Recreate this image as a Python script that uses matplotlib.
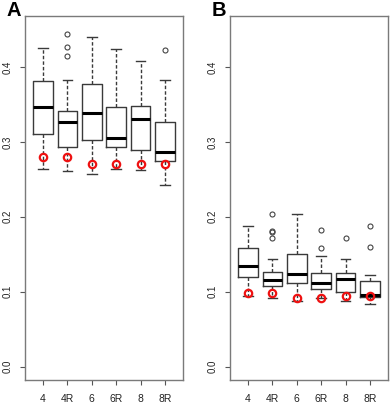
import matplotlib
matplotlib.use("Agg")
import matplotlib.pyplot as plt

plt.rcParams['font.family'] = ['Liberation Sans', 'DejaVu Sans']

categories = ["4", "4R", "6", "6R", "8", "8R"]

# Panel A
a_whislo = [0.264, 0.261, 0.257, 0.264, 0.263, 0.243]
a_q1     = [0.310, 0.293, 0.303, 0.293, 0.289, 0.275]
a_med    = [0.347, 0.326, 0.338, 0.305, 0.331, 0.287]
a_q3     = [0.381, 0.341, 0.377, 0.347, 0.348, 0.327]
a_whishi = [0.425, 0.383, 0.440, 0.424, 0.408, 0.383]
a_fliers = [[], [0.444, 0.426, 0.414], [], [], [], [0.422]]
a_red    = [0.280, 0.280, 0.270, 0.270, 0.270, 0.270]

# Panel B
b_whislo = [0.094, 0.092, 0.087, 0.092, 0.088, 0.084]
b_q1     = [0.119, 0.108, 0.112, 0.104, 0.100, 0.093]
b_med    = [0.134, 0.116, 0.124, 0.112, 0.117, 0.096]
b_q3     = [0.158, 0.126, 0.150, 0.125, 0.125, 0.114]
b_whishi = [0.187, 0.143, 0.203, 0.147, 0.143, 0.122]
b_fliers = [[], [0.203, 0.181, 0.179, 0.172], [], [0.182, 0.158], [0.171], [0.188, 0.159]]
b_red    = [0.098, 0.098, 0.092, 0.092, 0.094, 0.094]

yticks = [0.0, 0.1, 0.2, 0.3, 0.4]
ylim = (-0.018, 0.468)

fig = plt.figure(figsize=(3.92, 4.05), dpi=100)
axA = fig.add_axes([25/392, 1-380/405, 158/392, 364/405])
axB = fig.add_axes([230/392, 1-380/405, 158/392, 364/405])

boxc = "#3a3a3a"
framec = "#7a7a7a"

def draw(ax, wl, q1, med, q3, wh, fl, red, label):
    stats = []
    for i in range(len(categories)):
        stats.append(dict(label=categories[i], whislo=wl[i], q1=q1[i], med=med[i],
                          q3=q3[i], whishi=wh[i], fliers=fl[i]))
    pos = list(range(1, len(categories) + 1))
    ax.bxp(stats, positions=pos, widths=0.8, showfliers=True,
           boxprops=dict(color=boxc, linewidth=1.0),
           whiskerprops=dict(color=boxc, linewidth=1.0, linestyle=(0, (2.5, 1.5))),
           capprops=dict(color=boxc, linewidth=1.0),
           capwidths=0.4,
           medianprops=dict(color="black", linewidth=2.2),
           flierprops=dict(marker="o", markersize=3.6, markerfacecolor="none",
                           markeredgecolor="#444444", markeredgewidth=0.8))
    ax.plot(pos, red, linestyle="none", marker="o", markersize=5.3,
            markerfacecolor="none", markeredgecolor="#ee1111", markeredgewidth=1.6, zorder=5)
    ax.set_xlim(0.26, 6.74)
    ax.set_ylim(*ylim)
    ax.set_yticks(yticks)
    ax.set_yticklabels([f"{v:.1f}" for v in yticks], rotation=90, va="center",
                       fontsize=7, color="#222222")
    ax.set_xticks(pos)
    ax.set_xticklabels(categories, fontsize=7.5, color="#222222")
    ax.tick_params(axis="y", length=3.3, width=0.8, color="#555555", pad=5.5)
    ax.tick_params(axis="x", length=3.3, width=0.8, color="#555555", pad=6.5)
    for s in ax.spines.values():
        s.set_color(framec)
        s.set_linewidth(1.0)
    ax.text(-0.114, 1.014, label, transform=ax.transAxes, fontsize=14.5,
            fontweight="bold", ha="left", va="center", color="black")

draw(axA, a_whislo, a_q1, a_med, a_q3, a_whishi, a_fliers, a_red, "A")
draw(axB, b_whislo, b_q1, b_med, b_q3, b_whishi, b_fliers, b_red, "B")

fig.savefig("out.png", dpi=100)
